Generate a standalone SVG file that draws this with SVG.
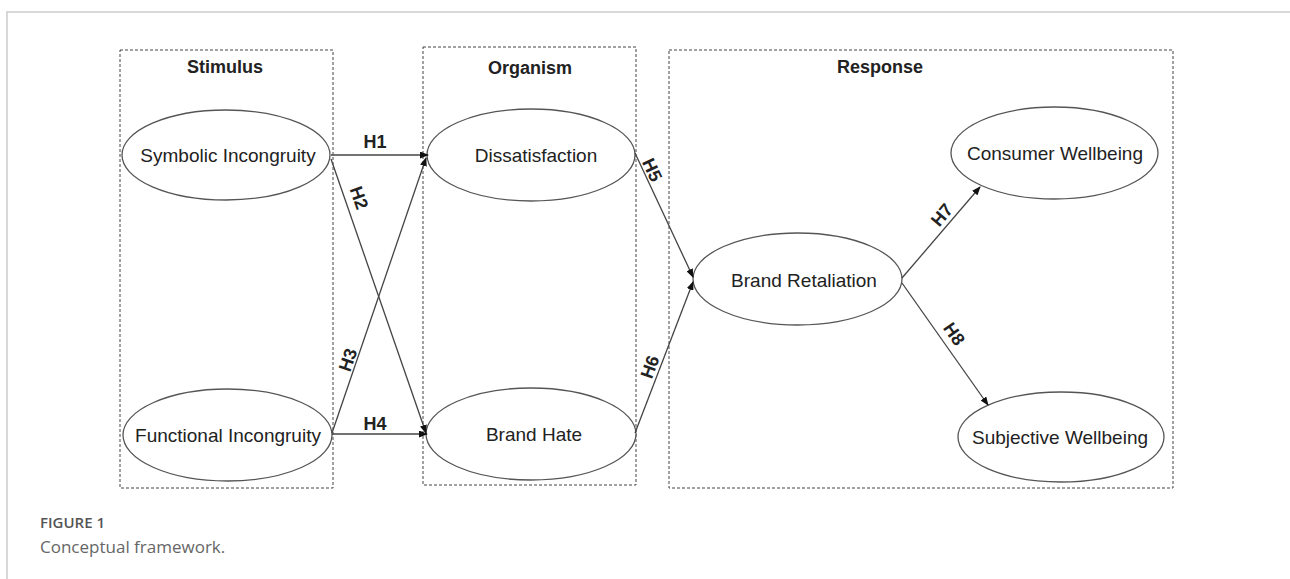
<svg xmlns="http://www.w3.org/2000/svg" width="1290" height="579" viewBox="0 0 1290 579">
<defs>
<marker id="arr" markerUnits="userSpaceOnUse" markerWidth="9" markerHeight="7" refX="8" refY="3.5" orient="auto">
<path d="M0,0 L9,3.5 L0,7 z" fill="#111"/>
</marker>
<style>
.frame{stroke:#cccccc;stroke-width:1.5;fill:none}
.box{fill:none;stroke:#444;stroke-width:1;stroke-dasharray:3 2}
.node ellipse{fill:#fff;stroke:#555;stroke-width:1.3}
.nt{font-family:"Liberation Sans",Arial,sans-serif;font-size:19px;fill:#222;text-anchor:middle}
.lbl{font-family:"Liberation Sans",Arial,sans-serif;font-size:18px;font-weight:bold;fill:#222;text-anchor:middle}
.conn line{stroke:#444;stroke-width:1.3;marker-end:url(#arr)}
.cap1{font-family:"Open Sans",sans-serif;font-size:15px;font-weight:600;fill:#555}
.cap2{font-family:"Open Sans",sans-serif;font-size:17px;fill:#666}
</style>
</defs>
<rect width="1290" height="579" fill="#fff"/>
<path class="frame" d="M7,579 L7,12 L1290,12"/>

<g id="stimulus-box">
<rect class="box" x="120" y="50" width="213" height="438"/>
<text class="lbl" x="225" y="73">Stimulus</text>
</g>
<g id="organism-box">
<rect class="box" x="423" y="47" width="213" height="438"/>
<text class="lbl" x="530" y="74">Organism</text>
</g>
<g id="response-box">
<rect class="box" x="669" y="50" width="504" height="438"/>
<text class="lbl" x="880" y="73">Response</text>
</g>

<g id="symbolic" class="node">
<ellipse cx="226" cy="155" rx="104" ry="45"/>
<text class="nt" x="228" y="162">Symbolic Incongruity</text>
</g>
<g id="functional" class="node">
<ellipse cx="227.5" cy="435" rx="104.5" ry="46"/>
<text class="nt" x="228" y="442">Functional Incongruity</text>
</g>
<g id="dissatisfaction" class="node">
<ellipse cx="531" cy="155" rx="104" ry="46"/>
<text class="nt" x="536" y="162">Dissatisfaction</text>
</g>
<g id="brandhate" class="node">
<ellipse cx="531" cy="434" rx="105" ry="46"/>
<text class="nt" x="534" y="441">Brand Hate</text>
</g>
<g id="retaliation" class="node">
<ellipse cx="797.5" cy="279" rx="104.5" ry="46"/>
<text class="nt" x="804" y="287">Brand Retaliation</text>
</g>
<g id="consumer" class="node">
<ellipse cx="1054.5" cy="153" rx="103.5" ry="46"/>
<text class="nt" x="1055" y="160">Consumer Wellbeing</text>
</g>
<g id="subjective" class="node">
<ellipse cx="1061" cy="437" rx="103" ry="45"/>
<text class="nt" x="1060" y="444">Subjective Wellbeing</text>
</g>

<g id="connectors" class="conn">
<line x1="331" y1="155" x2="428" y2="155"/>
<line x1="331" y1="159" x2="426" y2="433"/>
<line x1="332" y1="433" x2="426" y2="158"/>
<line x1="332" y1="434" x2="427" y2="434"/>
<line x1="635" y1="153" x2="693" y2="277"/>
<line x1="635" y1="433" x2="693" y2="282"/>
<line x1="902" y1="278" x2="980" y2="187"/>
<line x1="902" y1="283" x2="988" y2="405"/>
<text class="lbl" x="375" y="148">H1</text>
<text class="lbl" transform="translate(359,198) rotate(71)" y="6">H2</text>
<text class="lbl" transform="translate(348,360) rotate(-71)" y="6">H3</text>
<text class="lbl" x="375" y="430">H4</text>
<text class="lbl" transform="translate(652,170) rotate(65)" y="6">H5</text>
<text class="lbl" transform="translate(650,367) rotate(-70)" y="6">H6</text>
<text class="lbl" transform="translate(942,215) rotate(-50)" y="6">H7</text>
<text class="lbl" transform="translate(954,334) rotate(55)" y="6">H8</text>
</g>

<text class="cap1" x="40" y="528">FIGURE 1</text>
<text class="cap2" x="40" y="553">Conceptual framework.</text>
</svg>
